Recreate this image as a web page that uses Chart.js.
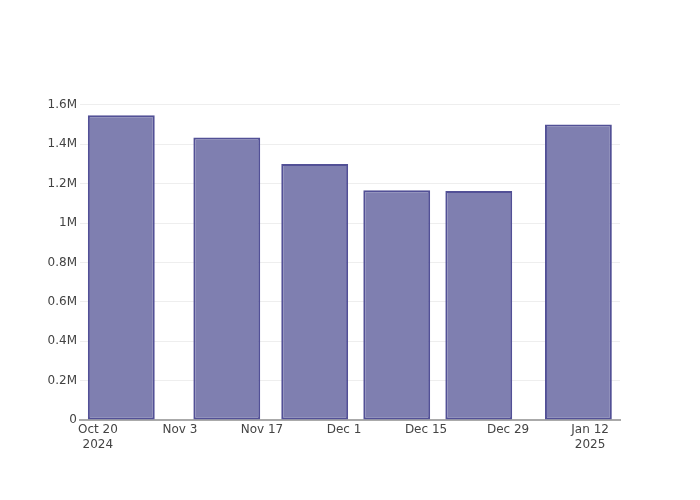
<!DOCTYPE html>
<html>
<head>
<meta charset="utf-8">
<script src="https://cdn.jsdelivr.net/npm/chart.js@4/dist/chart.umd.min.js"></script>
<style>
  html, body { margin: 0; padding: 0; background: #fff; }
  #wrap { width: 700px; height: 500px; }
</style>
</head>
<body>
<div id="wrap"><canvas id="barChart" width="700" height="500"></canvas></div>
<script>
// data
const barDates = ["2024-10-24", "2024-11-11", "2024-11-26", "2024-12-10", "2024-12-24", "2025-01-10"];
const barValues = [1548000, 1435000, 1300000, 1167000, 1163000, 1501000];

const xTickDates = ["2024-10-20", "2024-11-03", "2024-11-17", "2024-12-01", "2024-12-15", "2024-12-29", "2025-01-12"];
const xTickLabels = [["Oct 20", "2024"], "Nov 3", "Nov 17", "Dec 1", "Dec 15", "Dec 29", ["Jan 12", "2025"]];

const yTickValues = [0, 200000, 400000, 600000, 800000, 1000000, 1200000, 1400000, 1600000];
const yTickLabels = ["0", "0.2M", "0.4M", "0.6M", "0.8M", "1M", "1.2M", "1.4M", "1.6M"];

// no date adapter, so dates become day numbers counted from the first tick
const baseDay = Date.UTC(2024, 9, 20);
function toDay(s) {
    const p = s.split("-").map(Number);
    return Math.round((Date.UTC(p[0], p[1] - 1, p[2]) - baseDay) / 86400000);
}
const xTicks = xTickDates.map(toDay);

document.addEventListener("DOMContentLoaded", function () {
    const ctx = document.getElementById("barChart").getContext("2d");
    const tickFont = { family: "'DejaVu Sans', sans-serif", size: 12 };

    new Chart(ctx, {
        type: "bar",
        data: {
            datasets: [
                {
                    data: barDates.map((d, i) => ({ x: toDay(d), y: barValues[i] })),
                    backgroundColor: "rgb(127, 127, 176)",
                    borderColor: "rgb(82, 80, 150)",
                    borderWidth: 2,
                    borderSkipped: false,
                    barPercentage: 0.815,
                    categoryPercentage: 1,
                },
            ],
        },
        options: {
            responsive: false,
            animation: false,
            layout: { padding: { top: 100, right: 80, left: 0, bottom: 0 } },
            plugins: {
                legend: { display: false },
                tooltip: { enabled: false },
            },
            scales: {
                x: {
                    type: "linear",
                    offset: false,
                    min: -3.05,
                    max: 89.1,
                    afterBuildTicks: (scale) => {
                        scale.ticks = xTicks.map((v) => ({ value: v }));
                    },
                    afterFit: (scale) => { scale.height = 80; },
                    grid: { display: false, drawTicks: false, offset: false },
                    border: { display: true, color: "#aaaaaa", width: 2 },
                    ticks: {
                        padding: 3,
                        maxRotation: 0,
                        autoSkip: false,
                        color: "#444",
                        font: tickFont,
                        callback: (v) => {
                            const i = xTicks.indexOf(v);
                            return i >= 0 ? xTickLabels[i] : "";
                        },
                    },
                },
                y: {
                    min: 0,
                    max: 1625000,
                    afterBuildTicks: (scale) => {
                        scale.ticks = yTickValues.map((v) => ({ value: v }));
                    },
                    afterFit: (scale) => { scale.width = 80; },
                    grid: { color: "#eeeeee", lineWidth: 1, drawTicks: false },
                    border: { display: false },
                    ticks: {
                        padding: 3,
                        color: "#444",
                        font: tickFont,
                        callback: (v) => {
                            const i = yTickValues.indexOf(v);
                            return i >= 0 ? yTickLabels[i] : "";
                        },
                    },
                },
            },
        },
    });
});
</script>
</body>
</html>
